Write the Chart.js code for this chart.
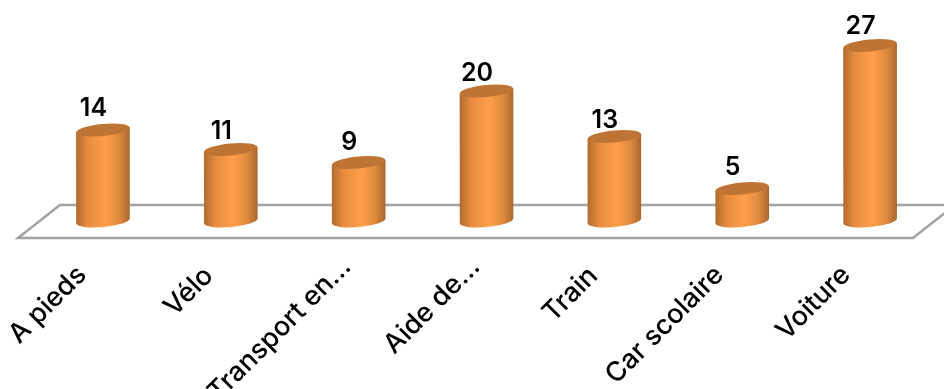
<!DOCTYPE html>
<html>
<head>
<meta charset="utf-8">
<style>
html, body { margin: 0; padding: 0; background: #fff; }
</style>
<script src="https://cdn.jsdelivr.net/npm/chart.js@4/dist/chart.umd.min.js"></script>
</head>
<body>
<canvas id="chart" width="944" height="389"></canvas>
<script>
const categories = ['A pieds', 'Vélo', 'Transport en...', 'Aide de...', 'Train', 'Car scolaire', 'Voiture'];
const values = [14, 11, 9, 20, 13, 5, 27];
const yMax = 34;

const fontFamily = 'Inter, "Open Sans", sans-serif';

// small nudges of the value labels, relative to the top of each bar
const labelDx = -9.5;
const labelDy = [-22, -18.5, -20.5, -18, -16.5, -21.5, -19.5];
// the untruncated tick labels sit lower and further left
const tickNudge = [[-21, 4], [-22, 5], [-12, -4], [-11, -4], [-21, 5], [-23, 4], [-24, 4]];

// floor under the bars, drawn from the axis position
const floorPlugin = {
    id: 'floor',
    beforeDatasetsDraw(chart) {
        const { ctx, chartArea, scales } = chart;
        const base = scales.y.getPixelForValue(0);
        ctx.save();
        ctx.strokeStyle = '#a3a3a3';
        ctx.lineWidth = 2.5;
        ctx.beginPath();
        ctx.moveTo(chartArea.left - 21, base + 17);
        ctx.lineTo(chartArea.right - 21, base + 17);
        ctx.lineTo(chartArea.right + 21, base - 16);
        ctx.lineTo(chartArea.left + 21, base - 16);
        ctx.closePath();
        ctx.stroke();
        ctx.restore();
    }
};

const tickPlugin = {
    id: 'tickNudge',
    beforeDraw(chart) {
        chart.scales.x.getLabelItems().forEach((item, i) => {
            const [tx, ty] = item.options.translation;
            item.options.translation = [tx + tickNudge[i][0], ty + tickNudge[i][1]];
        });
    }
};

// each bar is painted as a cylinder, with the value above it
const cylinderPlugin = {
    id: 'cylinder',
    beforeDatasetDraw(chart, args) {
        const { ctx } = chart;
        const tilt = -0.09;
        const ry = 6;
        args.meta.data.forEach((bar, i) => {
            const { x, y, base, width } = bar.getProps(['x', 'y', 'base', 'width'], true);
            const rx = width / 2;
            const dy = rx * Math.sin(tilt);

            const grad = ctx.createLinearGradient(x - rx, 0, x + rx, 0);
            grad.addColorStop(0, '#b06a2c');
            grad.addColorStop(0.2, '#e68a3e');
            grad.addColorStop(0.55, '#ff9f4a');
            grad.addColorStop(0.8, '#e08a3f');
            grad.addColorStop(1, '#a9682f');

            ctx.save();
            ctx.fillStyle = grad;
            ctx.beginPath();
            ctx.moveTo(x - rx, y - dy);
            ctx.lineTo(x + rx, y + dy);
            ctx.lineTo(x + rx, base + dy);
            ctx.ellipse(x, base, rx, ry, tilt, 0, Math.PI);
            ctx.closePath();
            ctx.fill();

            ctx.fillStyle = '#bd7434';
            ctx.beginPath();
            ctx.ellipse(x, y, rx, ry, tilt, 0, Math.PI * 2);
            ctx.fill();

            ctx.fillStyle = '#000';
            ctx.font = '600 25px ' + fontFamily;
            ctx.textAlign = 'center';
            ctx.textBaseline = 'middle';
            ctx.fillText(values[i], x + labelDx, y + labelDy[i]);
            ctx.restore();
        });
        return false;
    }
};

new Chart(document.getElementById('chart'), {
    type: 'bar',
    data: {
        labels: categories,
        datasets: [{
            data: values,
            backgroundColor: '#f79646',
            categoryPercentage: 1,
            barPercentage: 0.42
        }]
    },
    options: {
        responsive: false,
        animation: false,
        layout: { padding: { left: 39, right: 10, top: 0, bottom: 0 } },
        plugins: { legend: { display: false }, tooltip: { enabled: false } },
        scales: {
            x: {
                grid: { display: false },
                border: { display: false },
                afterFit(scale) {
                    scale.height = 168;
                    scale.paddingLeft = 0;
                    scale.paddingRight = 0;
                },
                ticks: {
                    autoSkip: false,
                    minRotation: 45,
                    maxRotation: 45,
                    padding: 26,
                    color: '#000',
                    font: { family: fontFamily, size: 27, weight: '500' }
                }
            },
            y: { display: false, min: 0, max: yMax }
        }
    },
    plugins: [floorPlugin, tickPlugin, cylinderPlugin]
});
</script>
</body>
</html>
